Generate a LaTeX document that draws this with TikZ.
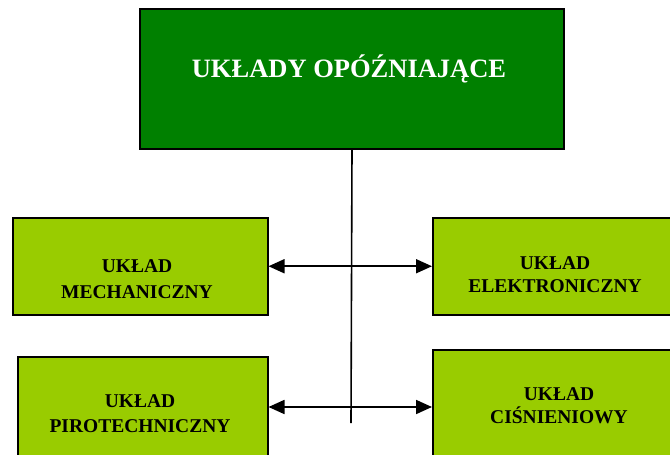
\documentclass[tikz,border=0pt]{standalone}
\usepackage{fontspec}
\setmainfont{Liberation Serif}
\usetikzlibrary{arrows.meta}
\definecolor{darkgreenfill}{HTML}{008000}
\definecolor{limefill}{HTML}{99CC00}
\tikzset{
  titlebox/.style={draw=black, line width=2pt, fill=darkgreenfill, anchor=north west, inner sep=0pt},
  subbox/.style={draw=black, line width=1.5pt, fill=limefill, anchor=north west, inner sep=0pt},
  titletext/.style={text=white, font=\fontsize{26.5}{30}\selectfont\bfseries, inner sep=0pt},
  subtext/.style={text=black, font=\fontsize{19.5}{#1}\selectfont\bfseries, align=center, inner sep=0pt, anchor=base},
  subtext/.default=25,
  link/.style={line width=1.8pt, {Triangle[length=16pt,width=14pt]}-{Triangle[length=16pt,width=14pt]}},
  trunk/.style={line width=1.6pt}
}
\begin{document}
\begin{tikzpicture}[x=1pt,y=-1pt]
\useasboundingbox (0,0) rectangle (670,455);
% boxes
\node[titlebox, minimum width=424pt, minimum height=140pt] (top) at (139,8) {};
\node[subbox, minimum width=255pt, minimum height=97pt] (mech) at (12,217) {};
\node[subbox, minimum width=260pt, minimum height=97pt] (elec) at (432,217) {};
\node[subbox, minimum width=250pt, minimum height=120pt] (pyro) at (17,356) {};
\node[subbox, minimum width=260pt, minimum height=130pt] (press) at (432,349) {};
% trunk line
\coordinate (trunkend) at (351,423);
\coordinate (lowrow) at (351,407);
\draw[trunk] (top.south) -- (trunkend);
% two-headed links
\draw[link] (mech.east) -- (mech.east -| elec.west);
\draw[link] (pyro.east |- lowrow) -- (lowrow -| press.west);
% labels (anchored at the baseline of the second line)
\node[titletext, anchor=base] (toptext) at (349,77) {UKŁADY OPÓŹNIAJĄCE};
\node[subtext=26] (mechtext) at (137,298) {UKŁAD\\MECHANICZNY};
\node[subtext=23] (electext) at (555,292) {UKŁAD\\ELEKTRONICZNY};
\node[subtext=25] (pyrotext) at (140,432) {UKŁAD\\PIROTECHNICZNY};
\node[subtext=22.5] (presstext) at (559,423) {UKŁAD\\CIŚNIENIOWY};
\end{tikzpicture}
\end{document}
